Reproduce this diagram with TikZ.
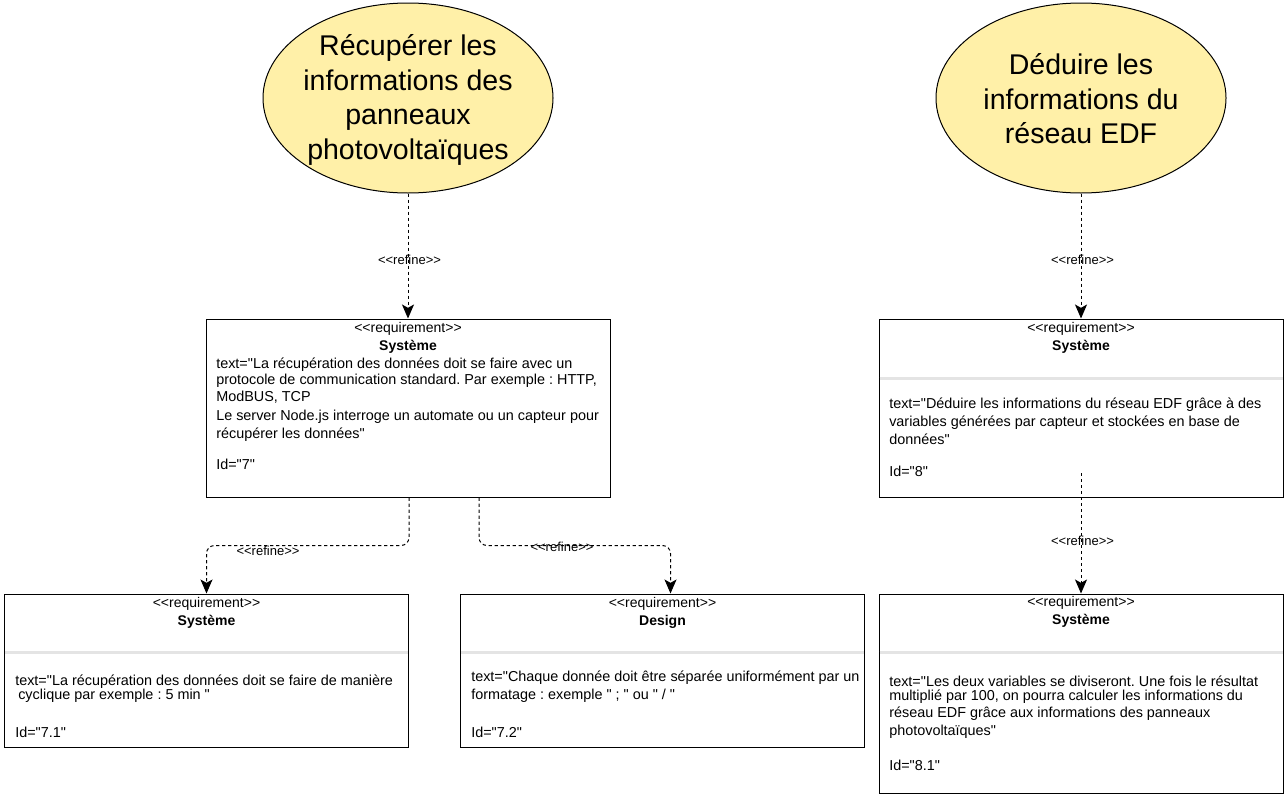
\documentclass[tikz,border=0pt]{standalone}
\usepackage{fontspec}
\setmainfont{Liberation Sans}[Ligatures=TeXOff]
\usetikzlibrary{shapes.geometric,arrows.meta,calc}
\definecolor{goalfill}{HTML}{FFF0A8}
\definecolor{sepgray}{HTML}{E4E4E4}
\frenchspacing
\begin{document}
\frenchspacing
\begin{tikzpicture}[x=0.75pt,y=-0.75pt,
 goal/.style={ellipse,draw=black,line width=0.75pt,fill=goalfill,minimum width=217.5pt,minimum height=142.5pt,inner sep=0pt},
 goaltext/.style={font=\fontsize{21.4}{25.8}\selectfont,align=center,inner sep=0pt},
 req/.style={rectangle,draw=black,line width=0.75pt,fill=white,minimum width=303pt,inner sep=0pt},
 stereo/.style={font=\fontsize{10.5}{12}\selectfont,inner sep=0pt,anchor=mid},
 reqname/.style={font=\bfseries\fontsize{10.5}{12}\selectfont,inner sep=0pt,anchor=mid},
 body/.style={font=\fontsize{10.8}{12}\selectfont,inner sep=0pt,anchor=mid west},
 sepline/.style={draw=sepgray,line width=2.25pt},
 refine/.style={draw=black,line width=0.75pt,dash pattern=on 2.5pt off 2pt,-{Stealth[length=10.5pt,width=9pt,inset=2.5pt]},rounded corners=6pt},
 lbl/.style={font=\fontsize{9.75}{11}\selectfont,inner sep=0pt,anchor=mid}
]
\path[use as bounding box] (0,0) rectangle (1287,796);

% goals
\node[goal] (g1) at (408,98) {};
\node[goaltext] (g1t) at (408,100) {Récupérer les\\informations des\\panneaux\\photovoltaïques};
\node[goal] (g2) at (1081,98) {};
\node[goaltext] (g2t) at (1081,99) {Déduire les\\informations du\\réseau EDF};

% requirement boxes
\node[req,minimum height=133.5pt] (A) at (408,408) {};
\node[req,minimum height=114.75pt] (B) at (206.5,670.5) {};
\node[req,minimum height=114.75pt] (C) at (662.5,670.5) {};
\node[req,minimum height=133.5pt] (D) at (1081,408) {};
\node[req,minimum height=149.25pt] (E) at (1081,693.5) {};

% separators
\draw[sepline] ($(B.north west)+(1,59)$) -- ($(B.north east)+(-1,59)$);
\draw[sepline] ($(C.north west)+(1,59)$) -- ($(C.north east)+(-1,59)$);
\draw[sepline] ($(D.north west)+(1,60)$) -- ($(D.north east)+(-1,60)$);
\draw[sepline] ($(E.north west)+(1,59)$) -- ($(E.north east)+(-1,59)$);

% box A text
\node[stereo] (As) at (408,329) {<<requirement>>};
\node[reqname] (An) at (408,347) {Système};
\node[body] (A1) at (216,365) {text="La récupération des données doit se faire avec un};
\node[body] (A2) at (216,381) {protocole de communication standard. Par exemple : HTTP,};
\node[body] (A3) at (216,398) {ModBUS, TCP};
\node[body] (A4) at (216,417) {Le server Node.js interroge un automate ou un capteur pour};
\node[body] (A5) at (216,435) {récupérer les données"};
\node[body] (A6) at (216,466) {Id="7"};

% box B text
\node[stereo] (Bs) at (206.5,604) {<<requirement>>};
\node[reqname] (Bn) at (206.5,622) {Système};
\node[body] (B1) at (15,682) {text="La récupération des données doit se faire de manière};
\node[body] (B2) at (18,696) {cyclique par exemple : 5 min "};
\node[body] (B3) at (15,734) {Id="7.1"};

% box C text
\node[stereo] (Cs) at (662.5,604) {<<requirement>>};
\node[reqname] (Cn) at (662.5,622) {Design};
\node[body] (C1) at (471,678) {text="Chaque donnée doit être séparée uniformément par un};
\node[body] (C2) at (471,696) {formatage : exemple " ; " ou " / "};
\node[body] (C3) at (471,734) {Id="7.2"};

% box D text
\node[stereo] (Ds) at (1081,329) {<<requirement>>};
\node[reqname] (Dn) at (1081,347) {Système};
\node[body] (D1) at (889,405) {text="Déduire les informations du réseau EDF grâce à des};
\node[body] (D2) at (889,423) {variables générées par capteur et stockées en base de};
\node[body] (D3) at (889,441) {données"};
\node[body] (D4) at (889,473) {Id="8"};

% box E text
\node[stereo] (Es) at (1081,603) {<<requirement>>};
\node[reqname] (En) at (1081,621) {Système};
\node[body] (E1) at (889,683) {text="Les deux variables se diviseront. Une fois le résultat};
\node[body] (E2) at (889,697) {multiplié par 100, on pourra calculer les informations du};
\node[body] (E3) at (889,714) {réseau EDF grâce aux informations des panneaux};
\node[body] (E4) at (889,732) {photovoltaïques"};
\node[body] (E5) at (889,767) {Id="8.1"};

% connectors
\draw[refine] (g1.south) -- (A.north);
\node[lbl] (r1) at (409.5,261) {<<refine>>};
\draw[refine] (g2.south) -- (D.north);
\node[lbl] (r2) at (1082.5,261) {<<refine>>};

\coordinate (ab0) at ($(A.south)+(1,0)$);
\draw[refine] (ab0) -- ++(0,48) -| (B.north);
\node[lbl] (r3) at (268,552) {<<refine>>};

\coordinate (ac0) at ($(A.south)+(71,0)$);
\coordinate (ac1) at ($(C.north)+(8,0)$);
\draw[refine] (ac0) -- ++(0,48) -| (ac1);
\node[lbl] (r4) at (562,548) {<<refine>>};

\coordinate (de0) at (1081,473);
\draw[refine] (de0) -- (E.north);
\node[lbl] (r5) at (1082.5,542) {<<refine>>};
\end{tikzpicture}
\end{document}
